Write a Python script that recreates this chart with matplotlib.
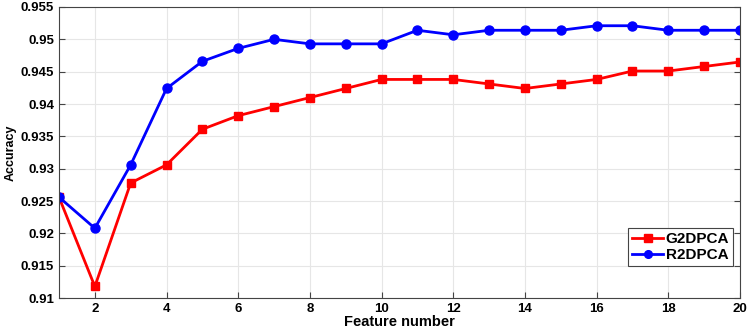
import numpy as np
import matplotlib.pyplot as plt

plt.rcParams['font.family'] = ['Liberation Sans', 'DejaVu Sans']
plt.rcParams['font.weight'] = 'bold'

features = np.arange(1, 21)
g2dpca = [0.9256, 0.9118, 0.9278, 0.9306, 0.9361, 0.9382, 0.9396, 0.9410, 0.9424, 0.9438,
          0.9438, 0.9438, 0.9431, 0.9424, 0.9431, 0.9438, 0.9451, 0.9451, 0.9458, 0.9465]
r2dpca = [0.9256, 0.9208, 0.9306, 0.9424, 0.9466, 0.9486, 0.9500, 0.9493, 0.9493, 0.9493,
          0.9514, 0.9507, 0.9514, 0.9514, 0.9514, 0.9521, 0.9521, 0.9514, 0.9514, 0.9514]

fig = plt.figure(figsize=(7.47, 3.32), dpi=100)
ax = fig.add_axes([0.079, 0.102, 0.9116, 0.877])
ax.plot(features, g2dpca, 'r-s', lw=2, ms=6, label='G2DPCA')
ax.plot(features, r2dpca, 'b-o', lw=2, ms=6.5, label='R2DPCA')

ax.set_xlim(1, 20)
ax.set_ylim(0.91, 0.955)
ax.set_xticks(np.arange(2, 21, 2))
ax.set_yticks(np.arange(0.91, 0.9551, 0.005))
ax.set_yticklabels(['0.91', '0.915', '0.92', '0.925', '0.93', '0.935',
                    '0.94', '0.945', '0.95', '0.955'])
ax.grid(True, color='#e6e6e6', lw=0.8)
ax.set_axisbelow(True)
ax.tick_params(direction='in', labelsize=9.5, length=4, color='#444444',
               top=False, right=True)
for s in ax.spines.values():
    s.set_color('#444444')
ax.set_xlabel('Feature number', fontsize=10.5, fontweight='bold', labelpad=0)
ax.set_ylabel('Accuracy', fontsize=9, fontweight='bold', labelpad=3)

leg = ax.legend(loc='lower right', bbox_to_anchor=(0.99, 0.11), fontsize=11,
                fancybox=False, edgecolor='#444444', framealpha=1,
                handlelength=2.0, borderpad=0.25, labelspacing=0.15, handletextpad=0.2,
                borderaxespad=0, markerscale=0.85)
leg.get_frame().set_linewidth(0.8)

plt.savefig('out.png', dpi=100)
